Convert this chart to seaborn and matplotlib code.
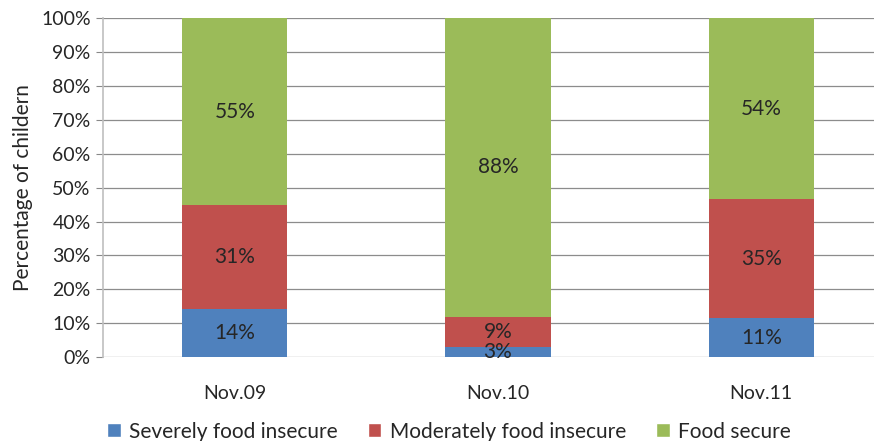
import numpy as np
import pandas as pd
import matplotlib
matplotlib.use("Agg")
import matplotlib.pyplot as plt
import seaborn as sns
from matplotlib.patches import Patch

# -----------------------------
# Data
# -----------------------------
periods = ["Nov.09", "Nov.10", "Nov.11"]
severe = [14.2, 3.0, 11.5]
moderate = [30.6, 9.0, 35.1]
secure = [55.2, 88.0, 53.4]
severe_lbl = ["14%", "3%", "11%"]
moderate_lbl = ["31%", "9%", "35%"]
secure_lbl = ["55%", "88%", "54%"]

series = ["Severely food insecure", "Moderately food insecure", "Food secure"]
colors = ["#4F81BD", "#C0504D", "#9BBB59"]

df = pd.DataFrame({"period": periods, "severe": severe,
                   "moderate": moderate, "secure": secure})
df["c1"] = df["severe"]
df["c2"] = df["c1"] + df["moderate"]
df["c3"] = df["c2"] + df["secure"]

# -----------------------------
# Plot
# -----------------------------
sns.set_style("white")
plt.rcParams["font.family"] = ["Lato", "DejaVu Sans"]
fs = 14

fig = plt.figure(figsize=(8.74, 4.41), dpi=100)
ax = fig.add_axes([0.118, 0.19, 0.893, 0.769])

# stacked bars: draw cumulative totals from the top down
for col, color in zip(["c3", "c2", "c1"], colors[::-1]):
    sns.barplot(data=df, x="period", y=col, color=color, width=0.4,
                saturation=1, linewidth=0, ax=ax, zorder=3)

# segment labels
for i in range(len(periods)):
    ax.text(i, df["c1"][i] / 2, severe_lbl[i], ha="center", va="center",
            fontsize=15, zorder=5)
    ax.text(i, df["c1"][i] + df["moderate"][i] / 2, moderate_lbl[i],
            ha="center", va="center", fontsize=15, zorder=5)
    ax.text(i, df["c2"][i] + df["secure"][i] / 2, secure_lbl[i],
            ha="center", va="center", fontsize=15, zorder=5)

ax.set_ylim(0, 100)
ax.set_xlim(-0.5, 2.465)
ax.set_yticks(np.arange(0, 101, 10))
ax.set_yticklabels([f"{v}%" for v in range(0, 101, 10)], fontsize=fs)
ax.tick_params(axis="x", labelsize=fs, length=0, pad=20)
ax.tick_params(axis="y", length=5, width=0.8, color="#888888", left=True, pad=4)
ax.set_xlabel("")
ax.set_ylabel("Percentage of childern", fontsize=15, labelpad=6)
ax.yaxis.grid(True, color="#8C8C8C", linewidth=0.9, zorder=0)

for side in ["top", "right", "bottom"]:
    ax.spines[side].set_visible(False)
ax.spines["left"].set_color("#BFBFBF")
ax.spines["left"].set_linewidth(1.2)

handles = [Patch(facecolor=c, label=s) for c, s in zip(colors, series)]
ax.legend(handles=handles, loc="upper center", bbox_to_anchor=(0.443, -0.19),
          ncol=3, frameon=False, fontsize=15, handlelength=0.65,
          handleheight=0.65, columnspacing=1.45, handletextpad=0.4,
          borderaxespad=0, borderpad=0)

fig.savefig("out.png", dpi=100)
